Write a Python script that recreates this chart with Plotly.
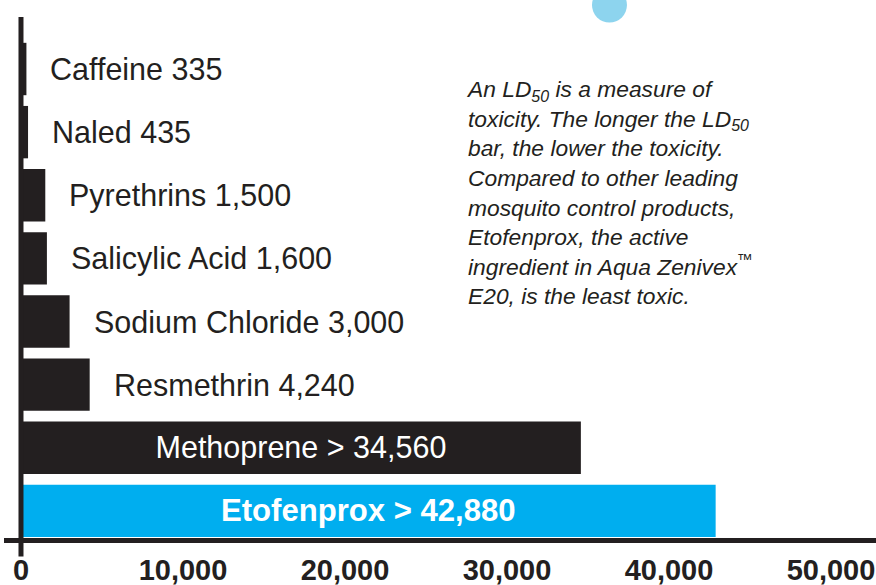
import plotly.graph_objects as go

# ---- data ----
products = ["Caffeine", "Naled", "Pyrethrins", "Salicylic Acid", "Sodium Chloride",
            "Resmethrin", "Methoprene", "Etofenprox"]
ld50 = [335, 435, 1500, 1600, 3000, 4240, 34560, 42880]
value_labels = ["335", "435", "1,500", "1,600", "3,000", "4,240", "> 34,560", "> 42,880"]
tick_vals = [0, 10000, 20000, 30000, 40000, 50000]
tick_text = ["0", "10,000", "20,000", "30,000", "40,000", "50,000"]

BLACK = "#231F20"
BLUE = "#00AEEF"
FONT = "Liberation Sans, Arial, sans-serif"

colors = [BLUE if p == "Etofenprox" else BLACK for p in products]
inside = [v > 20000 for v in ld50]
bar_text = []
for p, lab, ins in zip(products, value_labels, inside):
    if not ins:
        bar_text.append("")
    elif p == "Etofenprox":
        bar_text.append(f"<b>{p} {lab}</b>")
    else:
        bar_text.append(f"{p} {lab}")
text_sizes = [31.1 if p == "Etofenprox" else 30.5 for p in products]

fig = go.Figure(go.Bar(
    x=ld50, y=products, orientation="h",
    marker=dict(color=colors, line=dict(width=0)),
    text=bar_text,
    textposition=["inside" if i else "none" for i in inside],
    insidetextanchor="middle",
    textfont=dict(family=FONT, size=text_sizes, color="white"),
    hoverinfo="skip",
))

# labels outside the short bars
for p, v, lab, ins in zip(products, ld50, value_labels, inside):
    if not ins:
        fig.add_annotation(x=v, y=p, xref="x", yref="y", text=f"{p} {lab}",
                           showarrow=False, xanchor="left", yanchor="middle",
                           xshift=22, font=dict(family=FONT, size=30.5, color=BLACK))

note = ("<i>An LD<sub>50</sub> is a measure of<br>"
        "toxicity. The longer the LD<sub>50</sub><br>"
        "bar, the lower the toxicity.<br>"
        "Compared to other leading<br>"
        "mosquito control products,<br>"
        "Etofenprox, the active<br>"
        "ingredient in Aqua Zenivex<sup>™</sup><br>"
        "E20, is the least toxic.</i>")
fig.add_annotation(x=0.5276, y=0.89, xref="paper", yref="paper", text=note,
                   showarrow=False, xanchor="left", yanchor="top", align="left",
                   font=dict(family=FONT, size=22.8, color=BLACK))

# vertical axis line extending below the horizontal axis
fig.add_shape(type="line", xref="x", yref="paper", x0=0, x1=0, y0=-0.0355, y1=1.0,
              line=dict(color=BLACK, width=5), layer="above")
# decorative circle at top
fig.add_shape(type="circle", xref="paper", yref="paper",
              x0=0.6743, x1=0.7144, y0=0.9894, y1=1.0566,
              fillcolor="#8DD4EE", line=dict(width=0), layer="above")

fig.update_layout(
    width=876, height=585,
    margin=dict(l=4, r=0, t=17, b=47),
    paper_bgcolor="white", plot_bgcolor="white",
    bargap=0.17, showlegend=False,
    xaxis=dict(range=[-1049, 52778], tickvals=tick_vals, ticktext=tick_text,
               showgrid=False, zeroline=False, showline=True, linewidth=5,
               linecolor=BLACK, ticks="", automargin=False, ticklabelstandoff=2,
               tickfont=dict(family=FONT, size=29, color=BLACK, weight="bold")),
    yaxis=dict(type="category", range=[7.43, -0.824], showticklabels=False,
               showgrid=False, zeroline=False, showline=False, ticks="",
               automargin=False),
)

fig.write_html("out.html", config={"displayModeBar": False, "staticPlot": True},
               post_script="document.body.style.margin='0';document.body.style.overflow='hidden';")
